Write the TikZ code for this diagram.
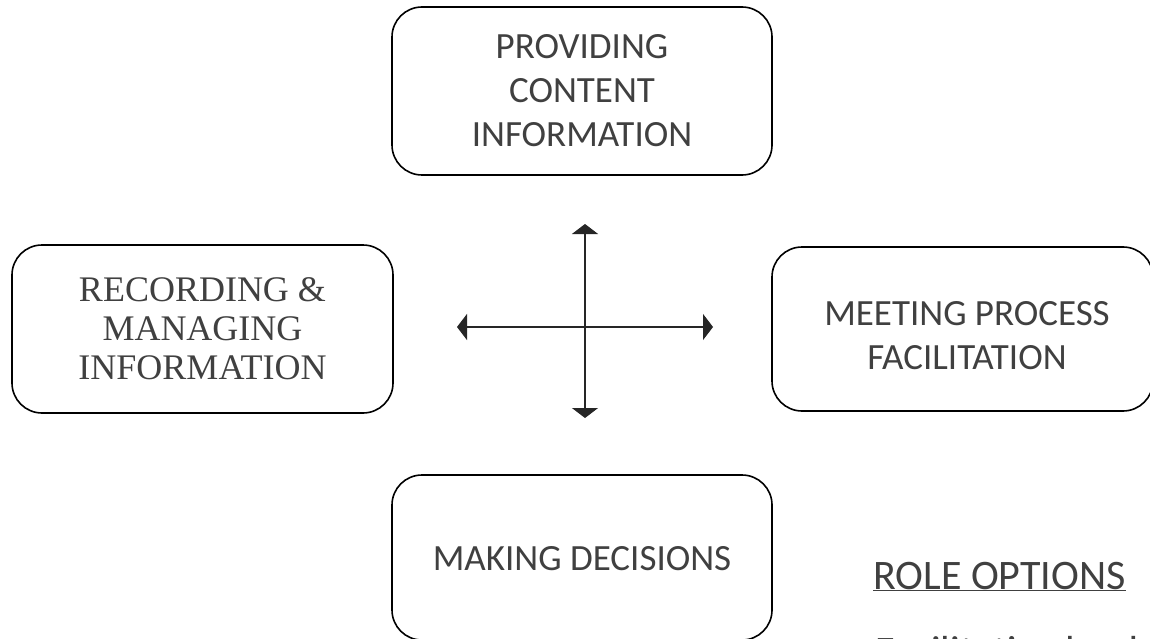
\documentclass[tikz,border=0pt]{standalone}
\usepackage{fontspec}
\setmainfont{Carlito}
\newfontfamily\timesfont{Liberation Serif}
\usetikzlibrary{arrows.meta}
\definecolor{txtgray}{HTML}{404040}
\tikzset{
  rolebox/.style={draw=black, line width=1.6pt, rounded corners=30pt, inner sep=0pt,
    text=txtgray, align=center},
  calfont/.style={font=\fontsize{37}{44}\selectfont},
  bigfont/.style={font=\fontsize{42}{50}\selectfont},
  serfont/.style={font=\timesfont\fontsize{36}{39}\selectfont},
  cross/.style={draw=black!85, line width=1.1pt,
    {Triangle[width=26pt,length=10pt]}-{Triangle[width=26pt,length=10pt]}}
}
\begin{document}
\begin{tikzpicture}[x=1pt,y=-1pt]
\useasboundingbox (0,0) rectangle (1150,639);
\clip (0,0) rectangle (1150,639);
\fill[white] (0,0) rectangle (1150,639);
% boxes
\node[rolebox, calfont, minimum width=380pt, minimum height=168pt] (top) at (582,91)
  {PROVIDING\\CONTENT\\INFORMATION};
\node[rolebox, serfont, minimum width=381pt, minimum height=168pt] (left) at (202.5,329)
  {RECORDING \&\\MANAGING\\INFORMATION};
\node[rolebox, minimum width=381pt, minimum height=164pt] (right) at (962.5,329) {};
\node[calfont, text=txtgray, align=center] (righttxt) at (967,336)
  {MEETING PROCESS\\FACILITATION};
\node[rolebox, minimum width=380pt, minimum height=165pt] (bottom) at (582,557.5) {};
\node[calfont, text=txtgray, anchor=base] (bottomtxt) at (582,570) {MAKING DECISIONS};
% cross arrows
\coordinate (vt) at (585,224);
\coordinate (vb) at (585,418);
\coordinate (hl) at (457,327);
\coordinate (hr) at (713,327);
\draw[cross] (vt) -- (vb);
\draw[cross] (hl) -- (hr);
% role options
\node[bigfont, text=txtgray, anchor=base west, inner sep=0pt] (roleopt) at (873,589)
  {\underline{ROLE OPTIONS}};
\node[bigfont, text=txtgray, anchor=base west, inner sep=0pt] (facil) at (875,665)
  {Facilitative leadership};
\end{tikzpicture}
\end{document}
